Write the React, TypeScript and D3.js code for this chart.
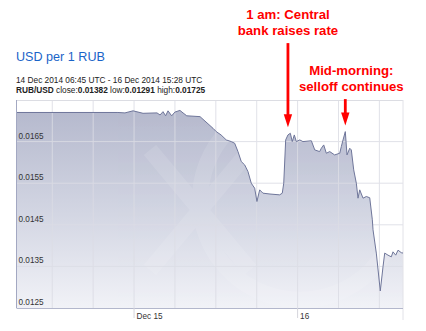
import React from "react";
import * as d3 from "d3";

// RUB/USD quotes, UTC
const quoteTimes = [
  "2014-12-14T06:45Z", "2014-12-14T21:38Z", "2014-12-14T22:40Z", "2014-12-14T23:51Z",
  "2014-12-15T01:19Z", "2014-12-15T03:22Z", "2014-12-15T03:49Z", "2014-12-15T04:15Z",
  "2014-12-15T04:38Z", "2014-12-15T04:59Z", "2014-12-15T05:31Z", "2014-12-15T06:00Z",
  "2014-12-15T06:44Z", "2014-12-15T07:11Z", "2014-12-15T07:44Z", "2014-12-15T09:41Z",
  "2014-12-15T11:35Z", "2014-12-15T12:04Z", "2014-12-15T12:46Z", "2014-12-15T13:32Z",
  "2014-12-15T14:16Z", "2014-12-15T14:46Z", "2014-12-15T15:15Z", "2014-12-15T15:44Z",
  "2014-12-15T16:14Z", "2014-12-15T16:43Z", "2014-12-15T17:12Z", "2014-12-15T17:42Z",
  "2014-12-15T18:02Z", "2014-12-15T18:26Z", "2014-12-15T18:55Z", "2014-12-15T19:57Z",
  "2014-12-15T21:22Z", "2014-12-15T21:45Z", "2014-12-15T21:58Z", "2014-12-15T22:15Z",
  "2014-12-15T22:35Z", "2014-12-15T22:56Z", "2014-12-15T23:13Z", "2014-12-15T23:31Z",
  "2014-12-15T23:49Z", "2014-12-16T00:19Z", "2014-12-16T00:47Z", "2014-12-16T02:01Z",
  "2014-12-16T02:31Z", "2014-12-16T03:14Z", "2014-12-16T03:29Z", "2014-12-16T03:50Z",
  "2014-12-16T04:13Z", "2014-12-16T04:43Z", "2014-12-16T05:26Z", "2014-12-16T06:11Z",
  "2014-12-16T06:25Z", "2014-12-16T06:40Z", "2014-12-16T07:00Z", "2014-12-16T07:15Z",
  "2014-12-16T07:39Z", "2014-12-16T07:53Z", "2014-12-16T08:14Z", "2014-12-16T08:37Z",
  "2014-12-16T08:52Z", "2014-12-16T09:07Z", "2014-12-16T09:36Z", "2014-12-16T10:05Z",
  "2014-12-16T10:35Z", "2014-12-16T10:58Z", "2014-12-16T11:04Z", "2014-12-16T11:33Z",
  "2014-12-16T12:08Z", "2014-12-16T12:32Z", "2014-12-16T12:47Z", "2014-12-16T13:16Z",
  "2014-12-16T13:45Z", "2014-12-16T14:00Z", "2014-12-16T14:24Z", "2014-12-16T14:44Z",
  "2014-12-16T15:13Z", "2014-12-16T15:28Z",
];

const quoteRates = [
  0.0172, 0.0172, 0.01719, 0.01724,
  0.01718, 0.01719, 0.01714, 0.01722,
  0.01712, 0.01724, 0.01712, 0.01721,
  0.01725, 0.01719, 0.01712, 0.0171,
  0.01682, 0.01674, 0.01666, 0.01654,
  0.0165, 0.01646, 0.01626, 0.01602,
  0.01594, 0.01578, 0.0155, 0.01538,
  0.01506, 0.01534, 0.01526, 0.01524,
  0.01522, 0.01526, 0.0155, 0.01654,
  0.01666, 0.0167, 0.0165, 0.01666,
  0.0165, 0.01654, 0.0165, 0.01652,
  0.0163, 0.01626, 0.01634, 0.01642,
  0.01622, 0.01626, 0.01618, 0.01622,
  0.01638, 0.01654, 0.01674, 0.01618,
  0.01634, 0.0163, 0.01582, 0.0155,
  0.01514, 0.01534, 0.01514, 0.01518,
  0.01515, 0.01462, 0.01438, 0.01382,
  0.01291, 0.01349, 0.01382, 0.01377,
  0.01373, 0.01385, 0.01377, 0.01389,
  0.01383, 0.01382,
];

const rangeStart = "2014-12-14T06:45Z";
const rangeEnd = "2014-12-16T15:28Z";
const yDomain = [0.0125, 0.0175];
const yTickValues = [0.0125, 0.0135, 0.0145, 0.0155, 0.0165];
const xTickDates = ["2014-12-15T00:00Z", "2014-12-16T00:00Z"];
const xTickLabels = ["Dec 15", "16"];

const titleText = "USD per 1 RUB";
const periodText = "14 Dec 2014 06:45 UTC - 16 Dec 2014 15:28 UTC";
const pairText = "RUB/USD";
const closeValue = "0.01382";
const lowValue = "0.01291";
const highValue = "0.01725";

// Callouts: text lines, the quote they point at, and text placement
const calloutLines = [
  ["1 am: Central", "bank raises rate"],
  ["Mid-morning:", "selloff continues"],
];
const calloutTimes = ["2014-12-15T22:35Z", "2014-12-16T07:00Z"];
const calloutPeaks = [0.0167, 0.01674];

const W = 426;
const H = 331;
const plot = { left: 16.5, right: 403, top: 100, bottom: 308 };
const sans = "'Liberation Sans', Arial, sans-serif";
const red = "#ff0000";

export default function App() {
  const parse = (s: string) => new Date(s);
  const data = quoteTimes.map((t, i) => ({ t: parse(t), v: quoteRates[i] }));

  const x = d3
    .scaleUtc()
    .domain([parse(rangeStart), parse(rangeEnd)])
    .range([plot.left, plot.right]);
  const y = d3.scaleLinear().domain(yDomain).range([plot.bottom, plot.top]);

  const area = d3
    .area<{ t: Date; v: number }>()
    .x((d) => x(d.t))
    .y0(plot.bottom)
    .y1((d) => y(d.v));
  const line = d3
    .line<{ t: Date; v: number }>()
    .x((d) => x(d.t))
    .y((d) => y(d.v));

  const gridTimes = d3.utcHour.every(6)!.range(parse(rangeStart), parse(rangeEnd));

  const calloutTextY = [[19.3, 34.6], [75.3, 90.6]];
  const calloutTextDx = [0, 6];

  return (
    <svg
      width={W}
      height={H}
      viewBox={`0 0 ${W} ${H}`}
      style={{ position: "absolute", left: 0, top: 0, background: "#fff" }}
    >
      <defs>
        <linearGradient id="fillGrad" gradientUnits="userSpaceOnUse" x1="0" y1={plot.top} x2="0" y2={plot.bottom}>
          <stop offset="0%" stopColor="#b2b6cb" />
          <stop offset="55%" stopColor="#d3d6e3" />
          <stop offset="100%" stopColor="#f1f2f7" />
        </linearGradient>
        <clipPath id="plotClip">
          <rect x={plot.left} y={plot.top} width={plot.right - plot.left} height={plot.bottom - plot.top} />
        </clipPath>
      </defs>

      {/* header */}
      <text x={16} y={61} fontFamily={sans} fontSize={12.6} fill="#1a64c8">
        {titleText}
      </text>
      <text x={16} y={82.5} fontFamily={sans} fontSize={8.3} fill="#222">
        {periodText}
      </text>
      <text x={16} y={92.5} fontFamily={sans} fontSize={8.3} fill="#222">
        <tspan fontWeight="bold">{pairText}</tspan>
        <tspan> close:</tspan>
        <tspan fontWeight="bold">{closeValue}</tspan>
        <tspan> low:</tspan>
        <tspan fontWeight="bold">{lowValue}</tspan>
        <tspan> high:</tspan>
        <tspan fontWeight="bold">{highValue}</tspan>
      </text>

      {/* area */}
      <path d={area(data) ?? ""} fill="url(#fillGrad)" />

      {/* faint logo mark */}
      <g clipPath="url(#plotClip)" opacity={0.1} fill="none" stroke="#ffffff" strokeWidth={16}>
        <circle cx={300} cy={200} r={100} />
        <path d="M150 150 L250 270 M250 150 L150 270" />
      </g>

      {/* grid */}
      <g stroke="#dcdde5" strokeWidth={1} opacity={0.85}>
        {gridTimes.map((t, i) => (
          <line key={i} x1={x(t)} x2={x(t)} y1={plot.top} y2={plot.bottom} />
        ))}
        {yTickValues.slice(1).map((v, i) => (
          <line key={i} x1={plot.left} x2={plot.right} y1={y(v)} y2={y(v)} />
        ))}
      </g>
      <line x1={plot.left} x2={plot.right} y1={plot.top + 0.5} y2={plot.top + 0.5} stroke="#dcdde3" />
      <line x1={plot.right} x2={plot.right} y1={plot.top} y2={320} stroke="#e2e2e8" />

      <path d={line(data) ?? ""} fill="none" stroke="#6f769a" strokeWidth={1} />

      {/* axes */}
      <line x1={plot.left} x2={plot.left} y1={plot.top} y2={plot.bottom} stroke="#a3a8c2" />
      <line x1={plot.left} x2={plot.right} y1={plot.bottom + 0.5} y2={plot.bottom + 0.5} stroke="#b3b7cc" />

      {yTickValues.map((v, i) => (
        <text key={i} x={18.5} y={y(v) - 3} fontFamily={sans} fontSize={8.2} fill="#333">
          {d3.format(".4f")(v)}
        </text>
      ))}
      {xTickDates.map((d, i) => (
        <g key={i}>
          <line x1={x(parse(d))} x2={x(parse(d))} y1={plot.bottom} y2={318} stroke="#d6d6dc" />
          <text x={x(parse(d)) + 2.5} y={318.5} fontFamily={sans} fontSize={8.2} fill="#333">
            {xTickLabels[i]}
          </text>
        </g>
      ))}

      {/* callouts */}
      {calloutLines.map((lines, i) => {
        const cx = x(parse(calloutTimes[i]));
        const tipY = y(calloutPeaks[i]) - 6;
        const topY = calloutTextY[i][1] + 8.5;
        return (
          <g key={i}>
            {lines.map((l, j) => (
              <text
                key={j}
                x={cx + calloutTextDx[i]}
                y={calloutTextY[i][j]}
                textAnchor="middle"
                fontFamily={sans}
                fontWeight="bold"
                fontSize={13.2}
                fill={red}
              >
                {l}
              </text>
            ))}
            <line x1={cx} x2={cx} y1={topY} y2={tipY - 10} stroke={red} strokeWidth={2.8} />
            <path d={`M${cx - 4.2},${tipY - 13} L${cx + 4.2},${tipY - 13} L${cx},${tipY} Z`} fill={red} />
          </g>
        );
      })}
    </svg>
  );
}
